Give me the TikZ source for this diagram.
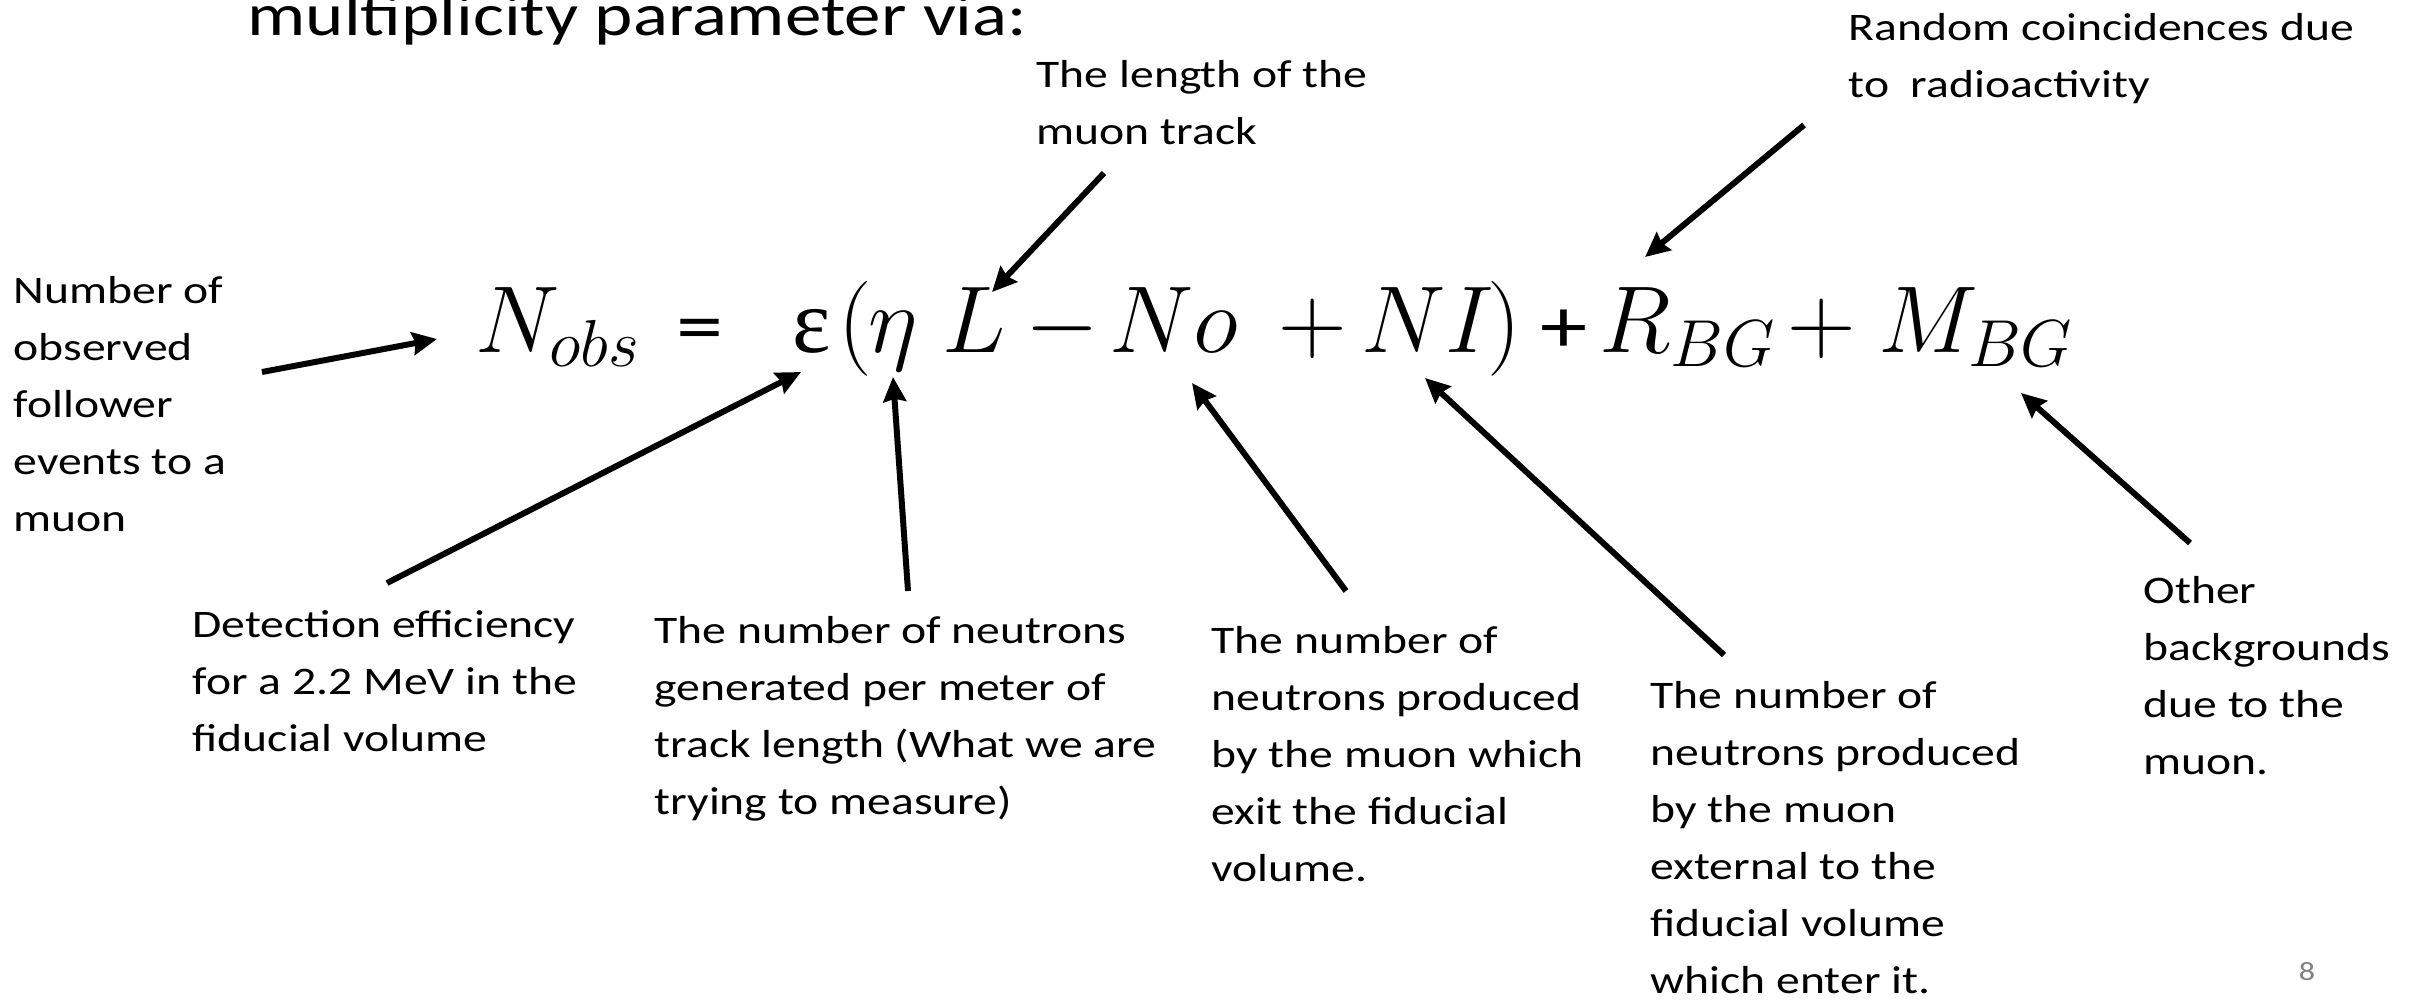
\RequirePackage{fix-cm}
\documentclass[tikz,border=0pt]{standalone}
\usepackage{amsmath}
\usepackage{fontspec}
\setmainfont{Carlito}[FakeStretch=1.22]
\newfontfamily\greekfont{Liberation Serif}
\usepackage{tikz}
\usetikzlibrary{arrows.meta}

\begin{document}
\begin{tikzpicture}[>={Stealth[length=7pt,width=6.5pt,inset=0.8pt]}, x=0.01cm, y=-0.01cm,
        note/.style={anchor=base west, align=left, inner sep=0pt, font=\fontsize{11.1}{16.2}\selectfont},
        term/.style={anchor=base, inner sep=0pt, font=\fontsize{27}{34}\selectfont},
        pointer/.style={->, line width=1.7pt}]
            \useasboundingbox (0,0) rectangle (2425,1002);

            % title
            \node[anchor=base west, inner sep=0pt, font=\fontsize{17}{20}\selectfont] (title) at (247,35) {multiplicity parameter via:};

            % equation
            \node[term] (nobs) at (558,352) {$N_{obs}$};
            \node[term, font=\fontsize{22}{26}\selectfont] (eq) at (700,352) {=};
            \node[term, font=\fontsize{26}{30}\selectfont\greekfont] (eps) at (812,352) {ε};
            \node[term] (lpar) at (855,352) {$($};
            \node[term] (eta)  at (893,352) {$\eta$};
            \node[term] (len)  at (974,352) {$L$};
            \node[term] (mns)  at (1062,352) {$-$};
            \node[term] (no)   at (1174,352) {$No$};
            \node[term] (pl1)  at (1313,352) {$+$};
            \node[term] (ni)   at (1428,352) {$NI$};
            \node[term] (rpar) at (1504,352) {$)$};
            \node[term, font=\fontsize{22}{26}\selectfont] (pl2) at (1564,352) {+};
            \node[term] (rbg)  at (1688,352) {$R_{BG}$};
            \node[term] (pl3)  at (1822,352) {$+$};
            \node[term] (mbg)  at (1976,352) {$M_{BG}$};

            % labels (anchored at the baseline of their last line)
            \node[note] (lcount) at (13,531) {Number of\\observed\\follower\\events to a\\muon};
            \node[note] (llen)   at (1036,144) {The length of the\\muon track};
            \node[note] (lrand)  at (1848,97) {Random coincidences due\\to\ \ radioactivity};
            \node[note] (leff)   at (192,751) {Detection efficiency\\for a 2.2 MeV in the\\fiducial volume};
            \node[note] (leta)   at (654,814) {The number of neutrons\\generated per meter of\\track length (What we are\\trying to measure)};
            \node[note] (lno)    at (1211,881) {The number of\\neutrons produced\\by the muon which\\exit the fiducial\\volume.};
            \node[note] (lni)    at (1650,993) {The number of\\neutrons produced\\by the muon\\external to the\\fiducial volume\\which enter it.};
            \node[note] (lmbg)   at (2143,774) {Other\\backgrounds\\due to the\\muon.};
            \node[anchor=base, inner sep=0pt, text=gray, font=\fontsize{7.5}{9}\selectfont] (page) at (2307,980) {8};

            % arrow ends
            \coordinate (tcount) at (262,372);  \coordinate (hcount) at (437,339);
            \coordinate (tlen)   at (1104,173); \coordinate (hlen)   at (992,292);
            \coordinate (trand)  at (1804,125); \coordinate (hrand)  at (1645,257);
            \coordinate (teff)   at (387,583);  \coordinate (heff)   at (801,372);
            \coordinate (teta)   at (908,591);  \coordinate (heta)   at (893,377);
            \coordinate (tno)    at (1346,591); \coordinate (hno)    at (1192,383);
            \coordinate (tni)    at (1724,655); \coordinate (hni)    at (1425,378);
            \coordinate (tmbg)   at (2190,543); \coordinate (hmbg)   at (2021,393);

            % arrows
            \draw[pointer] (tcount) -- (hcount);
            \draw[pointer] (tlen) -- (hlen);
            \draw[pointer] (trand) -- (hrand);
            \draw[pointer] (teff) -- (heff);
            \draw[pointer] (teta) -- (heta);
            \draw[pointer] (tno) -- (hno);
            \draw[pointer] (tni) -- (hni);
            \draw[pointer] (tmbg) -- (hmbg);
        \end{tikzpicture}
\end{document}
